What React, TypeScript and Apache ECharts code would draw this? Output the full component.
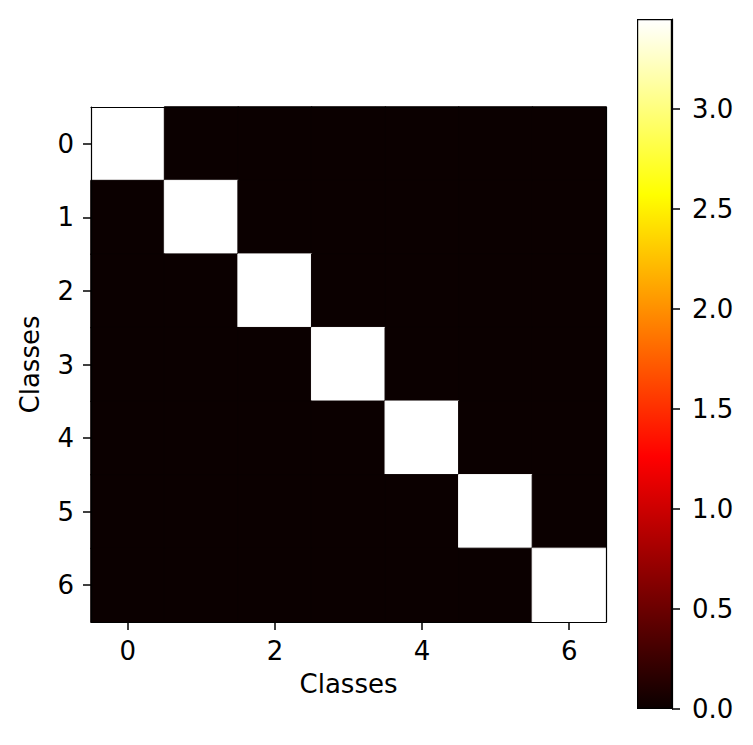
import React, { useEffect, useRef } from 'react';
import * as echarts from 'echarts';

const classes = ['0', '1', '2', '3', '4', '5', '6'];
const matrix = [
  [3.45, 0, 0, 0, 0, 0, 0],
  [0, 3.45, 0, 0, 0, 0, 0],
  [0, 0, 3.45, 0, 0, 0, 0],
  [0, 0, 0, 3.45, 0, 0, 0],
  [0, 0, 0, 0, 3.45, 0, 0],
  [0, 0, 0, 0, 0, 3.45, 0],
  [0, 0, 0, 0, 0, 0, 3.45],
];
const colorMin = 0;
const colorMax = 3.45;
const colorbarTicks = [0, 0.5, 1, 1.5, 2, 2.5, 3];
const axisTitle = 'Classes';

const FONT = 'DejaVu Sans';

function hot(t: number): string {
  const r = Math.min(1, 0.0416 + (1 - 0.0416) * (t / 0.365079));
  const g = t < 0.365079 ? 0 : Math.min(1, (t - 0.365079) / (0.746032 - 0.365079));
  const b = t < 0.746032 ? 0 : Math.min(1, (t - 0.746032) / (1 - 0.746032));
  const h = (v: number) => Math.round(v * 255).toString(16).padStart(2, '0');
  return '#' + h(r) + h(g) + h(b);
}

export default function App() {
  const ref = useRef<HTMLDivElement>(null);
  useEffect(() => {
    if (!ref.current) return;
    const chart = echarts.init(ref.current, null, { renderer: 'svg' });
    const palette: string[] = [];
    for (let i = 0; i <= 40; i++) palette.push(hot(i / 40));
    const heatData: any[] = [];
    matrix.forEach((row, r) =>
      row.forEach((v, c) =>
        heatData.push({
          value: [c, r, v],
          itemStyle: {
            borderColor: hot((v - colorMin) / (colorMax - colorMin)),
            borderWidth: 1,
          },
        })
      )
    );

    const txt = { fontFamily: FONT, fontSize: 26, color: '#000' };

    chart.setOption({
      animation: false,
      backgroundColor: '#fff',
      textStyle: { fontFamily: FONT },
      grid: [
        { left: 91, top: 107, width: 515, height: 515, show: false },
        { left: 637, top: 19, width: 35, height: 690, show: false },
      ],
      visualMap: {
        show: false,
        type: 'continuous',
        min: colorMin,
        max: colorMax,
        seriesIndex: 0,
        inRange: { color: palette },
      },
      xAxis: [
        {
          type: 'category',
          gridIndex: 0,
          data: classes,
          position: 'bottom',
          z: 5,
          name: axisTitle,
          nameLocation: 'middle',
          nameGap: 49,
          nameTextStyle: txt,
          axisLine: { show: true, lineStyle: { color: '#000', width: 1.2 } },
          axisTick: { show: true, alignWithLabel: true, interval: 1, length: 8, lineStyle: { color: '#000', width: 1.5 } },
          axisLabel: { interval: 1, margin: 16, ...txt },
          splitLine: { show: false },
        },
        {
          type: 'category',
          gridIndex: 0,
          data: classes,
          position: 'top',
          z: 5,
          axisLine: { show: true, lineStyle: { color: '#000', width: 1.2 } },
          axisTick: { show: false },
          axisLabel: { show: false },
        },
        {
          type: 'category',
          gridIndex: 1,
          data: ['cb'],
          show: false,
        },
      ],
      yAxis: [
        {
          type: 'category',
          gridIndex: 0,
          data: classes,
          inverse: true,
          position: 'left',
          z: 5,
          name: axisTitle,
          nameLocation: 'middle',
          nameGap: 48,
          nameRotate: 90,
          nameTextStyle: txt,
          axisLine: { show: true, lineStyle: { color: '#000', width: 1.2 } },
          axisTick: { show: true, alignWithLabel: true, length: 8, lineStyle: { color: '#000', width: 1.5 } },
          axisLabel: { margin: 17, ...txt },
          splitLine: { show: false },
        },
        {
          type: 'category',
          gridIndex: 0,
          data: classes,
          inverse: true,
          position: 'right',
          z: 5,
          axisLine: { show: true, lineStyle: { color: '#000', width: 1.2 } },
          axisTick: { show: false },
          axisLabel: { show: false },
        },
        {
          type: 'value',
          gridIndex: 1,
          min: colorMin,
          max: colorMax,
          position: 'right',
          z: 5,
          axisLine: { show: true, lineStyle: { color: '#000', width: 1.2 } },
          axisTick: { show: true, length: 8, customValues: colorbarTicks, lineStyle: { color: '#000', width: 1.5 } },
          axisLabel: {
            customValues: colorbarTicks,
            margin: 20,
            formatter: (v: number) => v.toFixed(1),
            ...txt,
          },
          splitLine: { show: false },
        },
      ],
      series: [
        {
          type: 'heatmap',
          xAxisIndex: 0,
          yAxisIndex: 0,
          data: heatData,
          emphasis: { disabled: true },
        },
        {
          type: 'bar',
          xAxisIndex: 2,
          yAxisIndex: 2,
          data: [colorMax],
          barWidth: '100%',
          itemStyle: {
            borderColor: '#000',
            borderWidth: 1.2,
            color: new echarts.graphic.LinearGradient(0, 0, 0, 1, [
              { offset: 0, color: '#ffffff' },
              { offset: 1 - 0.746032, color: '#ffff00' },
              { offset: 1 - 0.365079, color: '#ff0000' },
              { offset: 1, color: '#0b0000' },
            ]),
          },
          emphasis: { disabled: true },
        },
      ],
    });
    return () => chart.dispose();
  }, []);
  return (
    <div
      ref={ref}
      style={{ position: 'fixed', left: 0, top: 0, width: 753, height: 745, background: '#fff' }}
    />
  );
}
